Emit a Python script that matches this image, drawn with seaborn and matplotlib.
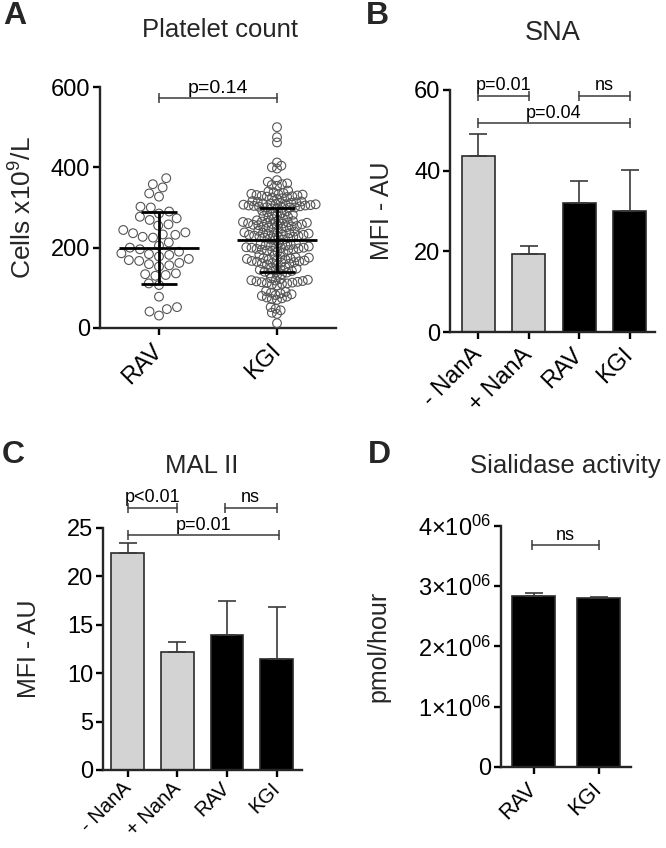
import numpy as np
import pandas as pd
import matplotlib
matplotlib.use("Agg")
import matplotlib.pyplot as plt
import seaborn as sns

# ─────────────────────────────────────────────
# DATA
# ─────────────────────────────────────────────

# Panel A — platelet counts (x10^9/L), one value per subject
rav_platelets = [373, 358, 350, 335, 327, 302, 300, 290, 285, 277, 273, 269,
                 258, 255, 244, 238, 236, 233, 232, 227, 225, 213, 205, 200,
                 196, 190, 186, 184, 182, 178, 172, 169, 167, 162, 159, 156,
                 153, 136, 134, 132, 130, 111, 107, 78, 52, 47, 41, 31]

kgi_platelets = [500, 475, 462,
                 412, 404, 400, 397,
                 368, 364, 360, 358, 356, 354,
                 342, 340, 338, 336, 334, 333, 332, 331, 330, 329, 328, 327,
                 326, 325, 323, 321,
                 316, 315, 314, 313, 312, 311, 310, 310, 309, 308, 308, 307,
                 306, 305, 305, 304, 303, 302, 301, 300, 300, 299, 298, 297,
                 292, 290, 288, 286, 284, 282, 280, 279, 277, 275, 273, 271,
                 268, 267, 266, 265, 264, 263, 262, 262, 261, 260, 259, 258,
                 257, 256, 255, 254, 253, 252, 251, 250, 248, 246,
                 242, 240, 239, 238, 237, 236, 235, 234, 233, 232, 232, 231,
                 230, 229, 228, 227, 226, 225, 224, 222, 220, 218,
                 212, 210, 208, 207, 206, 205, 204, 203, 202, 201, 200, 200,
                 199, 198, 197, 196, 195, 194, 193, 192, 190, 188,
                 182, 180, 178, 176, 175, 174, 173, 172, 171, 170, 169, 168,
                 167, 166, 165, 164, 163, 162, 161, 160, 158, 156,
                 152, 150, 148, 146, 145, 144, 142, 140, 138, 136, 134, 132,
                 124, 122, 120, 119, 118, 117, 116, 115, 114, 113, 112, 111,
                 110, 108, 106,
                 92, 90, 88, 86, 84, 82, 80, 78, 76, 74, 72, 70,
                 52, 48, 44, 38, 35,
                 12]

platelet_groups = ["RAV", "KGI"]
platelet_mean   = [199, 219]      # mean line shown in the figure
platelet_sd     = [89, 80]        # SD whiskers shown in the figure

# Panels B/C — lectin binding
lectin_groups = ["- NanA", "+ NanA", "RAV", "KGI"]
sna_mean      = [43.6, 19.3, 32.1, 30.1]
sna_sd        = [5.6, 1.9, 5.4, 10.1]
mal_mean      = [22.4, 12.2, 13.9, 11.45]
mal_sd        = [1.0, 1.05, 3.6, 5.4]

# Panel D — sialidase activity (pmol/hour)
sial_groups = ["RAV", "KGI"]
sial_mean   = [2.84e6, 2.81e6]
sial_sd     = [0.04e6, 0.012e6]

# ─────────────────────────────────────────────
# STYLE
# ─────────────────────────────────────────────
W_PX, H_PX = 666, 848
GREY_BAR   = "#d3d3d3"
EDGE       = "#2b2b2b"
LINE_GREY  = "#3a3a3a"
YTICK_FS   = 17
XTICK_FS   = 17
LABEL_FS   = 18
SIG_FS     = 13

sns.set_style("ticks")
plt.rcParams["font.family"] = ["Liberation Sans", "DejaVu Sans"]
plt.rcParams["mathtext.fontset"] = "custom"
plt.rcParams["mathtext.rm"] = "Liberation Sans"
plt.rcParams["mathtext.it"] = "Liberation Sans:italic"
plt.rcParams["mathtext.default"] = "regular"
plt.rcParams["axes.linewidth"] = 1.7
plt.rcParams["xtick.major.width"] = 1.7
plt.rcParams["ytick.major.width"] = 1.7
plt.rcParams["xtick.major.size"] = 5
plt.rcParams["ytick.major.size"] = 5


def px_axes(fig, left, top, right, bottom):
    """Add axes from pixel box (origin top-left)."""
    return fig.add_axes([left / W_PX, 1 - bottom / H_PX,
                         (right - left) / W_PX, (bottom - top) / H_PX])


def px_text(fig, x, y, s, **kw):
    fig.text(x / W_PX, 1 - y / H_PX, s, **kw)


def style_axes(ax, xtick_fs=XTICK_FS, ytick_fs=YTICK_FS, xpad=9):
    sns.despine(ax=ax)
    ax.tick_params(axis="y", labelsize=ytick_fs, colors="black", pad=2)
    ax.tick_params(axis="x", labelsize=xtick_fs, colors="black", pad=xpad)
    for lab in ax.get_xticklabels():
        lab.set_rotation(45)
        lab.set_ha("right")
        lab.set_va("center")
        lab.set_rotation_mode("anchor")
    ax.set_xlabel("")


def bracket(ax, x0, x1, y, text, fs=SIG_FS):
    ax.plot([x0, x1], [y, y], color=LINE_GREY, lw=1.1, marker="|",
            markersize=7, markeredgewidth=1.1, clip_on=False, zorder=6)
    ax.annotate(text, xy=((x0 + x1) / 2, y), xytext=(0, 1),
                textcoords="offset points", ha="center", va="bottom",
                fontsize=fs, color="black", annotation_clip=False)


def bar_panel(ax, groups, means, sds, colors):
    df = pd.DataFrame({"group": groups, "value": means})
    sns.barplot(data=df, x="group", y="value", order=groups, hue="group",
                palette=colors, legend=False, errorbar=None, width=0.66,
                edgecolor=EDGE, linewidth=1.2, ax=ax)
    x = np.arange(len(groups))
    ax.errorbar(x, means, yerr=[np.zeros(len(sds)), sds], fmt="none",
                ecolor=LINE_GREY, elinewidth=1.2, capsize=6.5,
                capthick=1.2, zorder=4)


# ─────────────────────────────────────────────
# PANELS
# ─────────────────────────────────────────────

def panel_a(fig):
    ax = px_axes(fig, 100, 87, 336, 328)
    df = pd.DataFrame({
        "group": ["RAV"] * len(rav_platelets) + ["KGI"] * len(kgi_platelets),
        "count": rav_platelets + kgi_platelets,
    })

    # RAV: swarm at true marker size
    sns.swarmplot(data=df[df.group == "RAV"], x="group", y="count",
                  order=platelet_groups, size=6.3, color="white",
                  edgecolor="#555555", linewidth=0.8, ax=ax)
    # KGI: swarm laid out with small markers ...
    n_before = len(ax.collections)
    sns.swarmplot(data=df[df.group == "KGI"], x="group", y="count",
                  order=platelet_groups, size=2.8, color="white",
                  edgecolor="#555555", linewidth=0.8, ax=ax, warn_thresh=1)
    ax.set_xlim(-0.5, 1.5)
    ax.set_ylim(0, 600)

    # seaborn lays the swarm out at draw time -> draw once, freeze, enlarge
    fig.canvas.draw()
    for coll in ax.collections[n_before:]:
        if "draw" in coll.__dict__:
            del coll.draw
        coll.set_sizes([6.3 ** 2])
    for coll in ax.collections:
        coll.set_facecolor("none")
        coll.set_edgecolor("#555555")
        coll.set_linewidth(0.8)

    x = np.arange(len(platelet_groups))
    ax.hlines(platelet_mean, x - 0.34, x + 0.34, color="black", lw=2,
              zorder=5)
    ax.errorbar(x, platelet_mean, yerr=platelet_sd, fmt="none",
                ecolor="black", elinewidth=2, capsize=13, capthick=2,
                zorder=5)

    ax.set_yticks([0, 200, 400, 600])
    ax.set_ylabel("Cells x10$^{9}$/L", fontsize=19, labelpad=10)
    style_axes(ax)
    bracket(ax, 0, 1, 572, "p=0.14", fs=14)


def panel_b(fig):
    ax = px_axes(fig, 450, 90, 655, 332)
    bar_panel(ax, lectin_groups, sna_mean, sna_sd,
              [GREY_BAR, GREY_BAR, "black", "black"])
    ax.set_xlim(-0.56, 3.5)
    ax.set_ylim(0, 60)
    ax.set_yticks([0, 20, 40, 60])
    ax.set_ylabel("MFI - AU", fontsize=LABEL_FS, labelpad=14)
    style_axes(ax)
    bracket(ax, 0, 1, 58.6, "p=0.01")
    bracket(ax, 2, 3, 58.6, "ns")
    bracket(ax, 0, 3, 51.8, "p=0.04")


def panel_c(fig):
    ax = px_axes(fig, 103, 528, 301.5, 770)
    bar_panel(ax, lectin_groups, mal_mean, mal_sd,
              [GREY_BAR, GREY_BAR, "black", "black"])
    ax.set_xlim(-0.5, 3.5)
    ax.set_ylim(0, 25)
    ax.set_yticks([0, 5, 10, 15, 20, 25])
    ax.set_ylabel("MFI - AU", fontsize=LABEL_FS, labelpad=19)
    # labels sit at the very bottom of the figure: keep them inside it
    style_axes(ax, xtick_fs=14.5, xpad=6)
    bracket(ax, 0, 1, 27.1, "p<0.01")
    bracket(ax, 1.95, 3, 27.1, "ns")
    bracket(ax, 0, 3.05, 24.25, "p=0.01")


def panel_d(fig):
    ax = px_axes(fig, 501, 526, 631.3, 766.7)
    bar_panel(ax, sial_groups, sial_mean, sial_sd, ["black", "black"])
    ax.set_xlim(-0.5, 1.5)
    ax.set_ylim(0, 4e6)
    ticks = [0, 1e6, 2e6, 3e6, 4e6]
    ax.set_yticks(ticks)
    ax.set_yticklabels(["0"] + [f"{int(t / 1e6)}×10$^{{06}}$"
                                for t in ticks[1:]])
    ax.set_ylabel("pmol/hour", fontsize=LABEL_FS, labelpad=20)
    style_axes(ax, xtick_fs=15.5)
    bracket(ax, -0.03, 1.0, 3.68e6, "ns")


# ─────────────────────────────────────────────
# MAIN
# ─────────────────────────────────────────────

def main():
    fig = plt.figure(figsize=(W_PX / 100, H_PX / 100), dpi=100)

    panel_a(fig)
    panel_b(fig)
    panel_c(fig)
    panel_d(fig)

    # panel letters + titles
    for x, y, s in [(3, 24, "A"), (366, 24, "B"), (2, 463, "C"),
                    (368, 463, "D")]:
        px_text(fig, x, y, s, fontsize=23, fontweight="bold",
                ha="left", va="baseline")
    for x, y, s, fs in [(220, 37, "Platelet count", 18.5),
                        (553, 40, "SNA", 19.5),
                        (202, 473, "MAL II", 18.5),
                        (565, 473, "Sialidase activity", 18.5)]:
        px_text(fig, x, y, s, fontsize=fs, ha="center", va="baseline")

    fig.savefig("out.png", dpi=100)
    plt.close(fig)


if __name__ == "__main__":
    main()
